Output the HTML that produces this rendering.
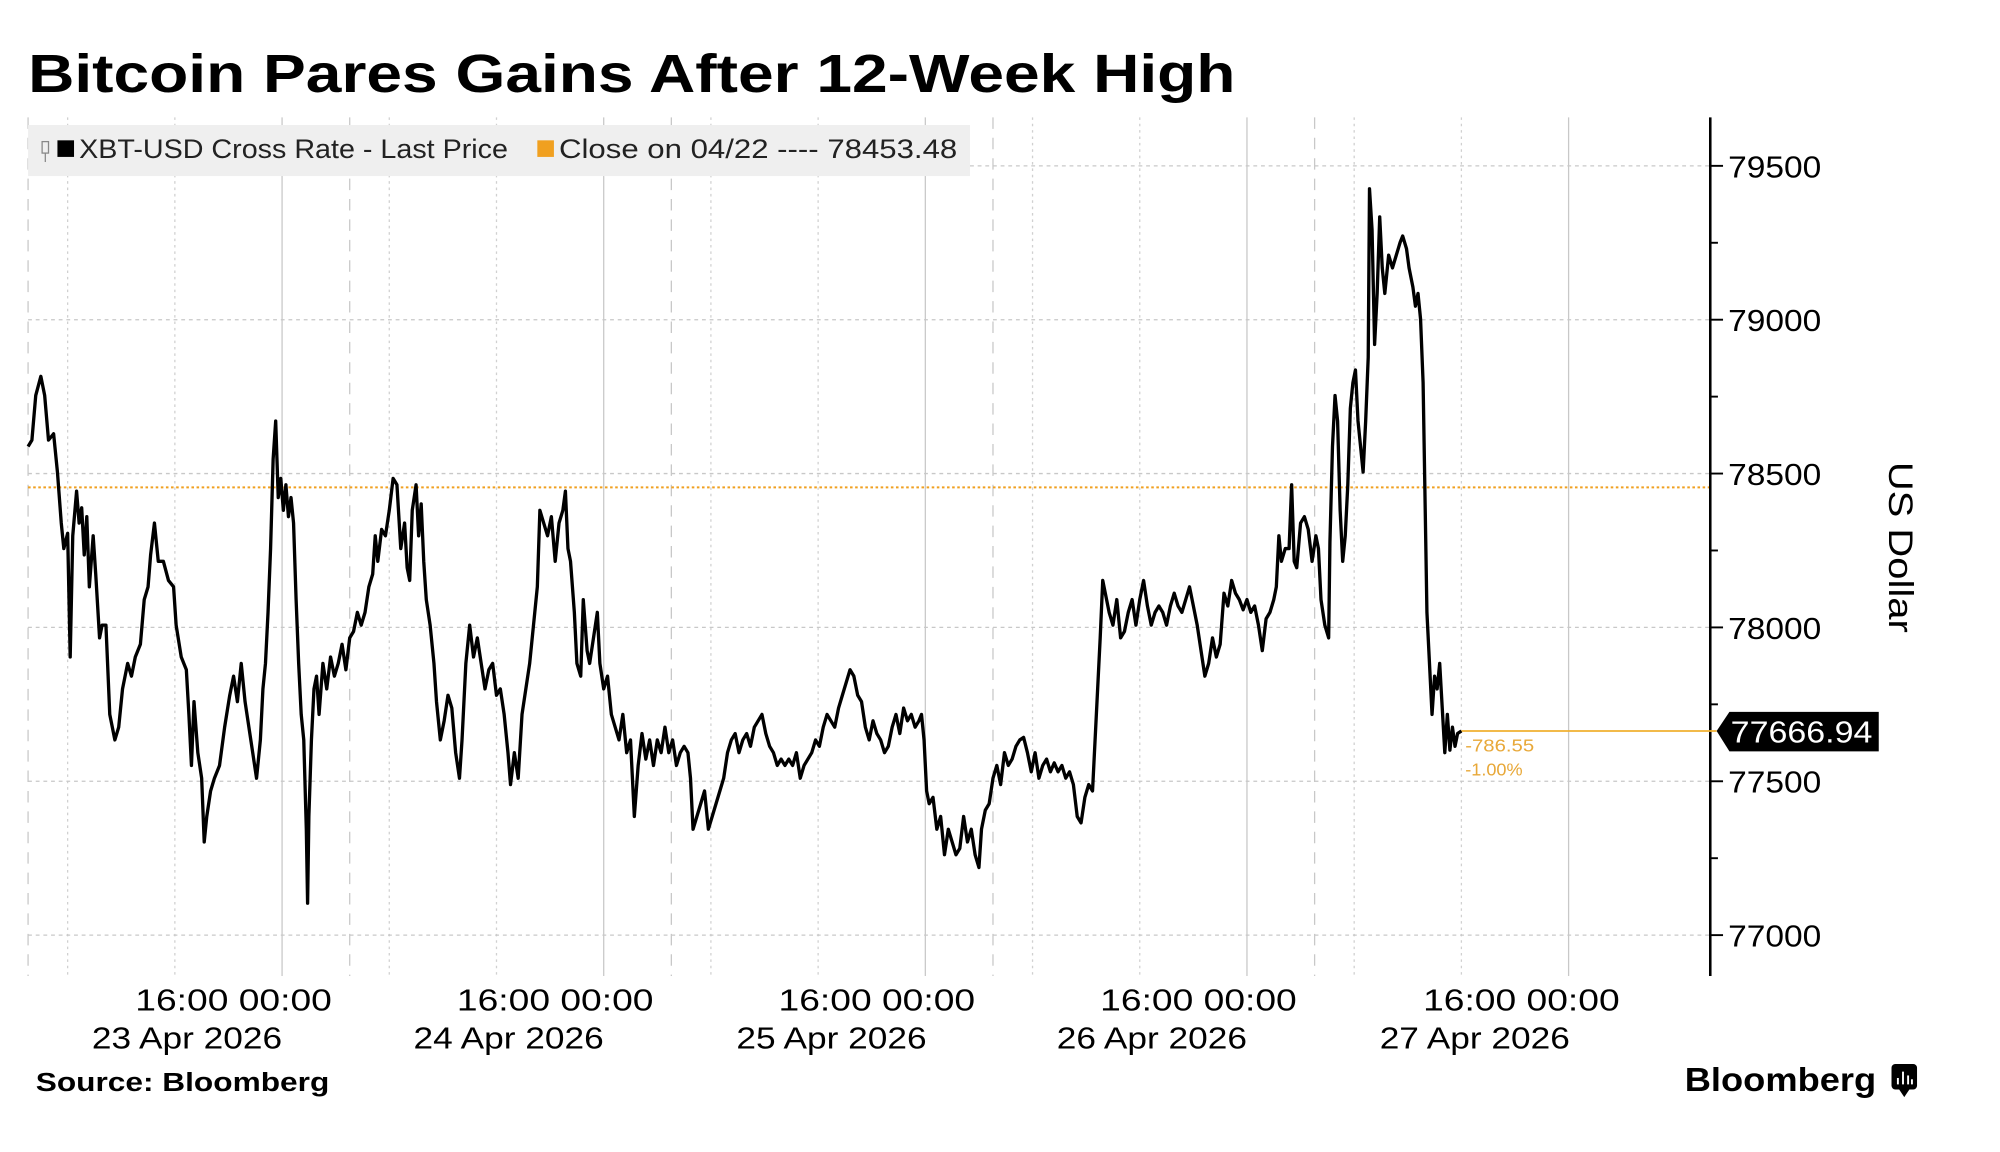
<!DOCTYPE html>
<html><head><meta charset="utf-8"><style>
html,body{margin:0;padding:0;background:#fff;}
svg{display:block;}
text{font-family:"Liberation Sans","DejaVu Sans",sans-serif;}
</style></head><body>
<svg width="2000" height="1152" viewBox="0 0 1567 903" preserveAspectRatio="none" xmlns="http://www.w3.org/2000/svg">
<rect width="1567" height="903" fill="#fff"/>
<text x="22" y="72" font-size="42" font-weight="bold" textLength="946" lengthAdjust="spacingAndGlyphs" fill="#000">Bitcoin Pares Gains After 12-Week High</text>
<g id="vgrid" stroke-width="1">
<g stroke="#c8c8c8" stroke-dasharray="9,7">
<line x1="22" y1="92" x2="22" y2="765"/><line x1="274" y1="92" x2="274" y2="765"/><line x1="526" y1="92" x2="526" y2="765"/><line x1="778" y1="92" x2="778" y2="765"/><line x1="1030" y1="92" x2="1030" y2="765"/>
</g>
<g stroke="#d0d0d0" stroke-dasharray="2,3">
<line x1="53" y1="92" x2="53" y2="765"/><line x1="137" y1="92" x2="137" y2="765"/>
<line x1="305" y1="92" x2="305" y2="765"/><line x1="389" y1="92" x2="389" y2="765"/>
<line x1="557" y1="92" x2="557" y2="765"/><line x1="641" y1="92" x2="641" y2="765"/>
<line x1="809" y1="92" x2="809" y2="765"/><line x1="893" y1="92" x2="893" y2="765"/>
<line x1="1061" y1="92" x2="1061" y2="765"/><line x1="1145" y1="92" x2="1145" y2="765"/>
</g>
<g stroke="#c8c8c8">
<line x1="221" y1="92" x2="221" y2="765"/><line x1="473" y1="92" x2="473" y2="765"/><line x1="725" y1="92" x2="725" y2="765"/><line x1="977" y1="92" x2="977" y2="765"/><line x1="1229" y1="92" x2="1229" y2="765"/>
</g>
</g>
<g stroke="#c8c8c8" stroke-dasharray="3,3">
<line x1="22" y1="130" x2="1340" y2="130"/><line x1="22" y1="250.6" x2="1340" y2="250.6"/><line x1="22" y1="371.2" x2="1340" y2="371.2"/><line x1="22" y1="491.8" x2="1340" y2="491.8"/><line x1="22" y1="612.4" x2="1340" y2="612.4"/><line x1="22" y1="733" x2="1340" y2="733"/>
</g>
<line x1="22" y1="382" x2="1340" y2="382" stroke="#f0a020" stroke-width="1.6" stroke-dasharray="2,2"/>
<rect x="22" y="98" width="738" height="40" fill="#efefef"/>
<rect x="33" y="111" width="5" height="9" fill="none" stroke="#888" stroke-width="1"/>
<line x1="35.5" y1="120" x2="35.5" y2="127" stroke="#888"/>
<rect x="45" y="110" width="13" height="13" fill="#000"/>
<text x="62" y="124" font-size="21" textLength="336" lengthAdjust="spacingAndGlyphs" fill="#222">XBT-USD Cross Rate - Last Price</text>
<rect x="421" y="110" width="13" height="13" fill="#f0a020"/>
<text x="438" y="124" font-size="21" textLength="312" lengthAdjust="spacingAndGlyphs" fill="#222">Close on 04/22 ---- 78453.48</text>
<line x1="1340" y1="92" x2="1340" y2="765" stroke="#000" stroke-width="2"/>
<g stroke="#000" stroke-width="1.5">
<line x1="1340" y1="130" x2="1350" y2="130"/><line x1="1340" y1="190.3" x2="1346" y2="190.3"/><line x1="1340" y1="250.6" x2="1350" y2="250.6"/><line x1="1340" y1="310.9" x2="1346" y2="310.9"/><line x1="1340" y1="371.2" x2="1350" y2="371.2"/><line x1="1340" y1="431.5" x2="1346" y2="431.5"/><line x1="1340" y1="491.8" x2="1350" y2="491.8"/><line x1="1340" y1="552.1" x2="1346" y2="552.1"/><line x1="1340" y1="612.4" x2="1350" y2="612.4"/><line x1="1340" y1="672.7" x2="1346" y2="672.7"/><line x1="1340" y1="733" x2="1350" y2="733"/>
</g>
<g font-size="24" fill="#000">
<text x="1354" y="139" textLength="73" lengthAdjust="spacingAndGlyphs">79500</text>
<text x="1354" y="259.6" textLength="73" lengthAdjust="spacingAndGlyphs">79000</text>
<text x="1354" y="380.2" textLength="73" lengthAdjust="spacingAndGlyphs">78500</text>
<text x="1354" y="500.8" textLength="73" lengthAdjust="spacingAndGlyphs">78000</text>
<text x="1354" y="621.4" textLength="73" lengthAdjust="spacingAndGlyphs">77500</text>
<text x="1354" y="742" textLength="73" lengthAdjust="spacingAndGlyphs">77000</text>
</g>
<text transform="translate(1480,362) rotate(90)" font-size="27" textLength="134" lengthAdjust="spacingAndGlyphs" fill="#000">US Dollar</text>
<line x1="1145" y1="573" x2="1345" y2="573" stroke="#f0b030" stroke-width="1.4"/>
<polygon points="1345,573 1355,558 1472,558 1472,589 1355,589" fill="#000"/>
<text x="1356" y="582" font-size="24" fill="#fff" textLength="111" lengthAdjust="spacingAndGlyphs">77666.94</text>
<text x="1148" y="589" font-size="14" fill="#e8a838" textLength="54" lengthAdjust="spacingAndGlyphs">-786.55</text>
<text x="1148" y="608" font-size="14" fill="#e8a838" textLength="45" lengthAdjust="spacingAndGlyphs">-1.00%</text>
<polyline fill="none" stroke="#000" stroke-width="2.6" stroke-linejoin="round" points="22,350 25,345 28,310 32,295 35,310 38,345 42,340 45,370 48,410 50,430 53,418 55,515 57,420 60,385 62,410 64,398 66,435 68,405 70,460 73,420 75,450 78,500 80,490 83,490 86,560 90,580 93,570 96,540 100,520 103,530 106,515 110,505 113,470 116,460 118,435 121,410 124,440 128,440 132,455 136,460 138,490 142,515 146,525 148,560 150,600 152,550 155,590 158,610 160,660 162,640 165,620 168,610 172,600 176,570 180,545 183,530 186,550 189,520 192,550 195,570 198,590 201,610 204,580 206,540 208,520 210,480 212,430 214,360 216,330 218,390 220,375 222,400 224,380 226,405 228,390 230,410 232,470 234,520 236,560 238,580 240,650 241,708 242,640 244,580 246,540 248,530 250,560 253,520 256,540 259,515 262,530 265,520 268,505 271,525 274,500 277,495 280,480 283,490 286,480 289,460 292,450 294,420 296,440 299,415 302,420 305,400 308,375 311,380 314,430 317,410 319,445 321,455 323,400 326,380 328,420 330,395 332,440 334,470 337,490 340,520 342,550 345,580 348,565 351,545 354,555 357,590 360,610 362,580 365,520 368,490 371,515 374,500 377,520 380,540 383,525 386,520 389,545 392,540 395,560 398,590 400,615 403,590 406,610 409,560 412,540 415,520 418,490 421,460 423,400 426,410 429,420 432,405 435,440 438,410 441,400 443,385 445,430 447,440 450,480 452,520 455,530 457,470 460,510 462,520 465,500 468,480 470,520 473,540 476,530 479,560 482,570 485,580 488,560 491,590 494,580 497,640 500,600 503,575 506,595 509,580 512,600 515,580 518,590 521,570 524,590 527,580 530,600 533,590 536,585 539,590 541,610 543,650 546,640 549,630 552,620 555,650 558,640 561,630 564,620 567,610 570,590 573,580 576,575 579,590 582,580 585,575 588,585 591,570 594,565 597,560 600,575 603,585 606,590 609,600 612,595 615,600 618,595 621,600 624,590 627,610 630,600 633,595 636,590 639,580 642,585 645,570 648,560 651,565 654,570 657,555 660,545 663,535 666,525 669,530 672,545 675,550 678,570 681,580 684,565 687,575 690,580 693,590 696,585 699,570 702,560 705,575 708,555 711,565 714,560 717,570 720,565 722,560 724,580 726,620 728,630 731,625 734,650 737,640 740,670 743,650 746,660 749,670 752,665 755,640 758,660 761,650 764,670 767,680 769,650 772,635 775,630 778,610 781,600 784,615 787,590 790,600 793,595 796,585 799,580 802,578 805,590 808,605 811,590 814,610 817,600 820,595 823,605 826,598 829,605 832,600 835,610 838,605 841,615 844,640 847,645 850,625 853,615 856,620 858,580 860,540 862,500 864,455 866,465 869,480 872,490 875,470 878,500 881,495 884,480 887,470 890,490 893,470 896,455 899,475 902,490 905,480 908,475 911,480 914,490 917,475 920,465 923,475 926,480 929,470 932,460 935,475 938,490 941,510 944,530 947,520 950,500 953,515 956,505 959,465 962,475 965,455 968,465 971,470 974,478 977,470 980,480 983,475 986,490 989,510 992,485 995,480 998,470 1000,460 1002,420 1004,440 1007,430 1010,430 1012,380 1014,440 1016,445 1019,410 1022,405 1025,415 1028,440 1031,420 1033,430 1035,470 1038,490 1041,500 1042,425 1044,350 1046,310 1048,330 1050,400 1052,440 1054,420 1056,380 1058,320 1060,300 1062,290 1064,330 1066,350 1068,370 1070,330 1072,280 1073,148 1075,180 1077,270 1079,230 1081,170 1083,210 1085,230 1088,200 1091,210 1094,200 1097,190 1099,185 1102,195 1104,210 1107,225 1109,240 1111,230 1113,250 1115,300 1117,420 1118,480 1120,520 1122,560 1124,530 1126,540 1128,520 1130,555 1132,590 1134,560 1136,588 1138,570 1140,585 1142,575 1145,573"/>
<g font-size="24" fill="#000">
<text x="106" y="792" textLength="154" lengthAdjust="spacingAndGlyphs">16:00 00:00</text>
<text x="358" y="792" textLength="154" lengthAdjust="spacingAndGlyphs">16:00 00:00</text>
<text x="610" y="792" textLength="154" lengthAdjust="spacingAndGlyphs">16:00 00:00</text>
<text x="862" y="792" textLength="154" lengthAdjust="spacingAndGlyphs">16:00 00:00</text>
<text x="1115" y="792" textLength="154" lengthAdjust="spacingAndGlyphs">16:00 00:00</text>
<text x="72" y="822" textLength="149" lengthAdjust="spacingAndGlyphs">23 Apr 2026</text>
<text x="324" y="822" textLength="149" lengthAdjust="spacingAndGlyphs">24 Apr 2026</text>
<text x="577" y="822" textLength="149" lengthAdjust="spacingAndGlyphs">25 Apr 2026</text>
<text x="828" y="822" textLength="149" lengthAdjust="spacingAndGlyphs">26 Apr 2026</text>
<text x="1081" y="822" textLength="149" lengthAdjust="spacingAndGlyphs">27 Apr 2026</text>
</g>
<text x="28" y="855" font-size="20" font-weight="bold" textLength="230" lengthAdjust="spacingAndGlyphs" fill="#000">Source: Bloomberg</text>
<text x="1320" y="855" font-size="26" font-weight="bold" textLength="150" lengthAdjust="spacingAndGlyphs" fill="#000">Bloomberg</text>
<rect x="1482" y="834" width="20" height="20" rx="3" fill="#000"/>
<polygon points="1488,854 1496,854 1492,860" fill="#000"/>
<g stroke="#fff" stroke-width="1.5"><line x1="1487" y1="850" x2="1487" y2="845"/><line x1="1491" y1="850" x2="1491" y2="840"/><line x1="1495" y1="850" x2="1495" y2="843"/><line x1="1498" y1="850" x2="1498" y2="846"/></g>
</svg>
</body></html>
